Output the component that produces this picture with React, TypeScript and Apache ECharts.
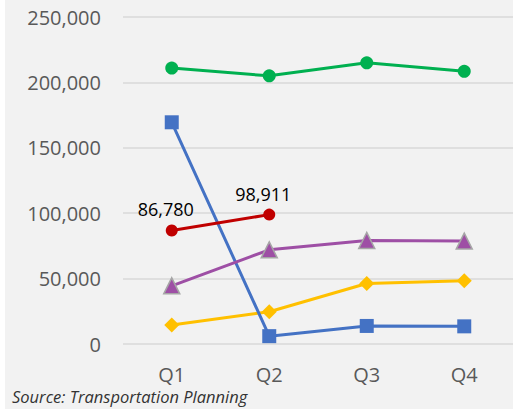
import React, { useEffect, useRef } from "react";
import * as echarts from "echarts";

const categories = ["Q1", "Q2", "Q3", "Q4"];
const greenValues = [211000, 205000, 215000, 208500];
const blueValues = [169500, 6000, 13800, 13500];
const redValues: (number | null)[] = [86780, 98911, null, null];
const purpleValues = [44500, 72000, 79200, 78700];
const yellowValues = [14500, 24700, 46300, 48300];
const yTicks = [0, 50000, 100000, 150000, 200000, 250000];
const sourceText = "Source: Transportation Planning";

const FONT = "'Open Sans', sans-serif";

export default function App() {
  const ref = useRef<HTMLDivElement>(null);
  useEffect(() => {
    if (!ref.current) return;
    const chart = echarts.init(ref.current, null, { renderer: "svg" });
    const fmt = (v: number) => v.toLocaleString("en-US");
    chart.setOption({
      animation: false,
      backgroundColor: "#f2f2f2",
      grid: { left: 118, right: -6, top: 17, bottom: 65, containLabel: false },
      xAxis: {
        type: "category",
        data: categories,
        boundaryGap: true,
        axisLine: { show: false },
        axisTick: { show: false },
        axisLabel: {
          color: "#595959",
          fontSize: 20,
          lineHeight: 20,
          fontFamily: FONT,
          margin: 20,
        },
      },
      yAxis: {
        type: "value",
        min: yTicks[0],
        max: yTicks[yTicks.length - 1],
        interval: 50000,
        axisLine: { show: false },
        axisTick: { show: false },
        axisLabel: {
          color: "#595959",
          fontSize: 20,
          fontFamily: FONT,
          margin: 22,
          formatter: (v: number) => fmt(v),
        },
        splitLine: { lineStyle: { color: "#d9d9d9", width: 1.5 } },
      },
      graphic: [
        {
          type: "text",
          left: 7,
          top: 388,
          style: {
            text: sourceText,
            fontSize: 16.5,
            lineHeight: 17,
            fontStyle: "italic",
            fontFamily: FONT,
            fill: "#333333",
          },
        },
      ],
      series: [
        {
          type: "line",
          data: yellowValues,
          symbol: "diamond",
          symbolSize: 15,
          lineStyle: { color: "#ffc000", width: 3 },
          itemStyle: { color: "#ffc000" },
        },
        {
          type: "line",
          data: blueValues,
          symbol: "rect",
          symbolSize: 14,
          lineStyle: { color: "#4472c4", width: 3 },
          itemStyle: { color: "#4472c4" },
        },
        {
          type: "line",
          data: purpleValues,
          symbol: "triangle",
          symbolSize: 16,
          lineStyle: { color: "#9e4fa5", width: 3 },
          itemStyle: { color: "#9e4fa5", borderColor: "#a6a6a6", borderWidth: 1.5 },
        },
        {
          type: "line",
          data: redValues,
          symbol: "circle",
          symbolSize: 12,
          lineStyle: { color: "#c00000", width: 3 },
          itemStyle: { color: "#c00000" },
          label: {
            show: true,
            position: "top",
            distance: 6,
            offset: [-6, 0],
            color: "#000000",
            fontSize: 18,
            fontFamily: FONT,
            formatter: (p: any) => fmt(p.value),
          },
        },
        {
          type: "line",
          data: greenValues,
          symbol: "circle",
          symbolSize: 13,
          lineStyle: { color: "#00b050", width: 3 },
          itemStyle: { color: "#00b050" },
        },
      ],
    });
    return () => chart.dispose();
  }, []);
  return (
    <div style={{ position: "fixed", left: 0, top: 0, width: 513, height: 409, background: "#ffffff" }}>
      <div ref={ref} style={{ position: "absolute", left: 5, top: 0, width: 508, height: 409 }} />
    </div>
  );
}
